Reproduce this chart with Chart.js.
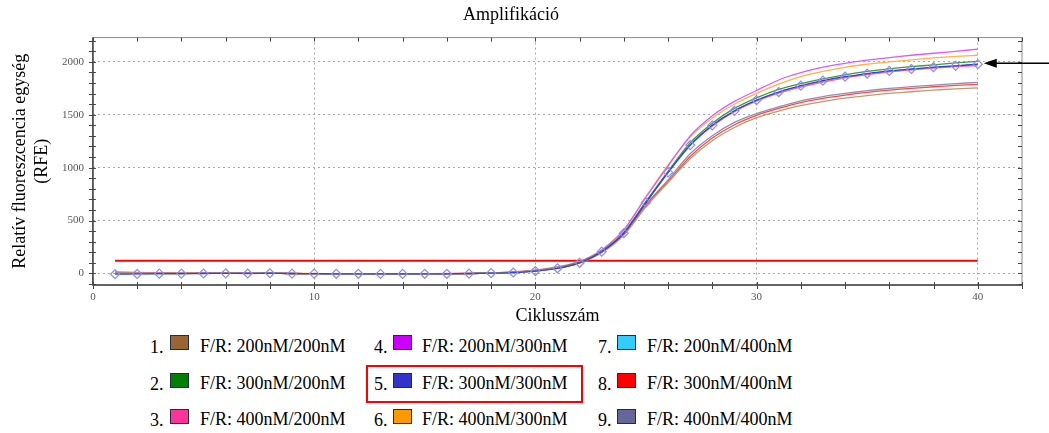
<!DOCTYPE html>
<html lang="hu">
<head>
  <meta charset="UTF-8">
  <title>Amplifikáció</title>
  <script src="https://cdn.jsdelivr.net/npm/chart.js"></script>
  <style>
    body { margin: 0; background: #fff; font-family: "Liberation Serif", "Times New Roman", serif; }
    #wrap { position: relative; width: 1049px; height: 433px; }
    #chartBox { position: absolute; left: 0; top: 0; width: 1049px; height: 331px; }
    .num, .txt { position: absolute; font-size: 18px; line-height: 18px; color: #000; white-space: nowrap; }
    .sw { position: absolute; width: 17px; height: 13px; border: 1.5px solid #1f2f3f; }
    #hl { position: absolute; left: 366px; top: 365px; width: 213px; height: 34px; border: 2px solid #ff0000; }
  </style>
</head>
<body>
  <div id="wrap">
    <div id="chartBox"><canvas id="ampChart"></canvas></div>
    <div id="legendBox"></div>
    <div id="hl"></div>
  </div>

  <script>
    // --- DATA ---
    const cycles = Array.from({ length: 40 }, (_, i) => i + 1);
    const xTicks = [0, 10, 20, 30, 40];
    const yTicks = [0, 500, 1000, 1500, 2000];
    const threshold = 120;

    const seriesNames = [
      'F/R: 200nM/200nM', 'F/R: 300nM/200nM', 'F/R: 400nM/200nM',
      'F/R: 200nM/300nM', 'F/R: 300nM/300nM', 'F/R: 400nM/300nM',
      'F/R: 200nM/400nM', 'F/R: 300nM/400nM', 'F/R: 400nM/400nM'
    ];
    const swatchColors = ['#996633', '#008000', '#ff3399', '#cc00ff', '#3333cc', '#ff9900', '#33ccff', '#ff0000', '#666699'];
    const lineColors = ['#c49a6c', '#3f9a3f', '#ff5fa8', '#d65cff', '#3344d0', '#ffb23f', '#3cbcf5', '#ff4848', '#8f8fb8'];

    const rfe1 = [3, 1, 0, -1, 0, 1, 0, 0, -1, -2, -3, -3, -4, -4, -3, -3, -2, 3, 10, 24, 52, 98, 195, 360, 630, 860, 1085, 1255, 1380, 1473, 1535, 1587, 1625, 1657, 1682, 1702, 1718, 1733, 1745, 1755];
    const rfe2 = [2, 0, -1, -1, 0, 1, 0, 0, -1, -2, -2, -3, -3, -4, -3, -3, -1, 4, 11, 26, 55, 104, 210, 385, 680, 965, 1235, 1420, 1560, 1660, 1740, 1795, 1840, 1878, 1910, 1935, 1955, 1972, 1990, 2006];
    const rfe3 = [15, 10, 6, 3, 2, 2, 1, 0, -1, -2, -3, -3, -4, -4, -3, -3, -1, 3, 10, 25, 52, 102, 208, 388, 675, 958, 1215, 1395, 1530, 1628, 1705, 1762, 1810, 1850, 1880, 1905, 1925, 1942, 1955, 1965];
    const rfe4 = [5, 3, 1, 0, 0, 1, 1, 0, -1, -2, -2, -3, -3, -3, -3, -2, 0, 5, 13, 30, 60, 110, 220, 410, 720, 1015, 1300, 1491, 1627, 1730, 1829, 1898, 1950, 1987, 2016, 2041, 2063, 2082, 2100, 2121];
    const rfe5 = [-8, -5, -3, -2, -1, 0, -1, 1, -2, -3, -4, -4, -5, -5, -4, -4, -2, 2, 8, 22, 48, 100, 205, 380, 670, 955, 1213, 1400, 1537, 1638, 1715, 1775, 1823, 1860, 1890, 1915, 1933, 1950, 1963, 1979];
    const rfe6 = [4, 2, 0, 0, 0, 1, 0, 0, -1, -1, -2, -2, -3, -3, -2, -1, 1, 6, 15, 33, 63, 112, 222, 412, 725, 1025, 1290, 1470, 1600, 1702, 1790, 1860, 1910, 1949, 1978, 2000, 2020, 2038, 2052, 2063];
    const rfe7 = [0, -2, -2, -1, 0, 0, 0, 0, -1, -2, -3, -3, -4, -4, -3, -3, -1, 3, 9, 23, 50, 100, 205, 382, 668, 950, 1208, 1395, 1535, 1635, 1713, 1770, 1818, 1856, 1885, 1910, 1928, 1945, 1960, 1975];
    const rfe8 = [8, 5, 3, 1, 1, 1, 0, 0, -1, -2, -3, -3, -4, -4, -3, -3, -2, 3, 10, 24, 52, 100, 200, 370, 645, 870, 1106, 1280, 1406, 1495, 1560, 1616, 1655, 1686, 1712, 1733, 1750, 1765, 1778, 1787];
    const rfe9 = [6, 4, 2, 1, 0, 1, 0, 0, -1, -2, -3, -3, -4, -4, -3, -3, -2, 3, 10, 24, 52, 100, 202, 375, 650, 885, 1131, 1302, 1428, 1511, 1575, 1632, 1672, 1702, 1728, 1749, 1766, 1781, 1795, 1806];
    const allSeries = [rfe1, rfe2, rfe3, rfe4, rfe5, rfe6, rfe7, rfe8, rfe9];

    // --- LEGEND (3 x 3 grid under the plot) ---
    const legendCols = [
      { num: 150, sw: 170, txt: 200 },
      { num: 374, sw: 393, txt: 422 },
      { num: 598, sw: 617, txt: 647 }
    ];
    const legendRows = [
      { txt: 337, sw: 335 },
      { txt: 374, sw: 373 },
      { txt: 410, sw: 409 }
    ];
    const legendBox = document.getElementById('legendBox');
    seriesNames.forEach((name, i) => {
      const col = legendCols[Math.floor(i / 3)];
      const row = legendRows[i % 3];
      legendBox.insertAdjacentHTML('beforeend',
        `<div class="num" style="left:${col.num}px;top:${row.txt + 1}px">${i + 1}.</div>` +
        `<div class="sw" style="left:${col.sw}px;top:${row.sw}px;background:${swatchColors[i]}"></div>` +
        `<div class="txt" style="left:${col.txt}px;top:${row.txt}px">${name}</div>`);
    });

    // --- FRAME, MINOR TICKS AND ARROW ---
    const framePlugin = {
      id: 'framePlugin',
      afterDraw(chart) {
        const { ctx, chartArea: a, scales: { x, y } } = chart;
        ctx.save();
        ctx.strokeStyle = '#8a8a8a';
        ctx.lineWidth = 1;
        ctx.strokeRect(a.left, a.top, a.right - a.left, a.bottom - a.top);

        ctx.strokeStyle = '#444';
        ctx.lineWidth = 1.5;
        ctx.beginPath();
        ctx.moveTo(a.left, a.top); ctx.lineTo(a.left, a.bottom); ctx.lineTo(a.right, a.bottom);
        ctx.stroke();

        ctx.lineWidth = 1;
        ctx.beginPath();
        for (let v = 0; v <= x.max; v += 2) {
          const px = Math.round(x.getPixelForValue(v)) + 0.5;
          ctx.moveTo(px, a.bottom - 3); ctx.lineTo(px, a.bottom + 4);
          ctx.moveTo(px, a.top); ctx.lineTo(px, a.top + 4);
        }
        for (let v = -100; v <= y.max; v += 100) {
          const py = Math.round(y.getPixelForValue(v)) + 0.5;
          ctx.moveTo(a.left - 4, py); ctx.lineTo(a.left + 3, py);
          ctx.moveTo(a.right - 4, py); ctx.lineTo(a.right, py);
        }
        ctx.stroke();

        // arrow pointing at the last point of series 5
        const pts = chart.getDatasetMeta(4).data;
        const end = pts[pts.length - 1];
        const tipX = end.x + 6, tipY = end.y - 1;
        ctx.strokeStyle = '#000';
        ctx.fillStyle = '#000';
        ctx.lineWidth = 1.5;
        ctx.beginPath();
        ctx.moveTo(tipX + 10, tipY); ctx.lineTo(chart.width, tipY);
        ctx.stroke();
        ctx.beginPath();
        ctx.moveTo(tipX, tipY); ctx.lineTo(tipX + 13, tipY - 4.5); ctx.lineTo(tipX + 13, tipY + 4.5);
        ctx.closePath();
        ctx.fill();
        ctx.restore();
      }
    };

    // --- CHART ---
    const datasets = allSeries.map((vals, i) => ({
      label: seriesNames[i],
      data: vals.map((v, k) => ({ x: cycles[k], y: v })),
      borderColor: lineColors[i],
      borderWidth: 1.3,
      pointRadius: 0,
      tension: 0.25,
      order: i === 4 ? -1 : i
    }));
    datasets[4].pointRadius = 4.5;
    datasets[4].pointStyle = 'rectRot';
    datasets[4].pointBorderColor = '#8c8cf2';
    datasets[4].pointBackgroundColor = 'rgba(255,255,255,0)';
    datasets[4].pointBorderWidth = 1.2;
    datasets.push({
      label: 'threshold',
      data: [{ x: cycles[0], y: threshold }, { x: cycles[cycles.length - 1], y: threshold }],
      borderColor: '#ff0000',
      borderWidth: 2,
      pointRadius: 0,
      order: 20
    });

    const serif = 'Liberation Serif';
    new Chart(document.getElementById('ampChart'), {
      type: 'line',
      data: { datasets },
      plugins: [framePlugin],
      options: {
        responsive: true,
        maintainAspectRatio: false,
        animation: false,
        layout: { padding: { left: 0, right: 27, top: 0, bottom: 0 } },
        plugins: {
          legend: { display: false },
          tooltip: { enabled: false },
          title: {
            display: true,
            text: 'Amplifikáció',
            color: '#000',
            font: { family: serif, size: 18, weight: 'normal' },
            padding: { top: 4, bottom: 12 }
          }
        },
        scales: {
          x: {
            type: 'linear',
            min: 0,
            max: 42,
            afterBuildTicks: s => { s.ticks = xTicks.map(v => ({ value: v })); },
            ticks: { color: '#555', font: { family: serif, size: 11 }, padding: 6, maxRotation: 0, callback: v => String(v) },
            grid: { color: '#a8a8a8', lineWidth: 1, drawTicks: false },
            border: { display: false, dash: [2, 3] },
            title: {
              display: true,
              text: 'Ciklusszám',
              color: '#000',
              font: { family: serif, size: 18, lineHeight: 1.1 },
              padding: { top: -4, bottom: 5 }
            }
          },
          y: {
            min: -110,
            max: 2230,
            afterBuildTicks: s => { s.ticks = yTicks.map(v => ({ value: v })); },
            ticks: { color: '#555', font: { family: serif, size: 11 }, padding: 9, callback: v => String(v) },
            grid: { color: '#a8a8a8', lineWidth: 1, drawTicks: false },
            border: { display: false, dash: [2, 3] },
            title: {
              display: true,
              text: ['Relatív fluoreszcencia egység', '(RFE)'],
              color: '#000',
              font: { family: serif, size: 18, lineHeight: 1.22 },
              padding: { top: 9, bottom: 0 }
            }
          }
        }
      }
    });
  </script>
</body>
</html>
